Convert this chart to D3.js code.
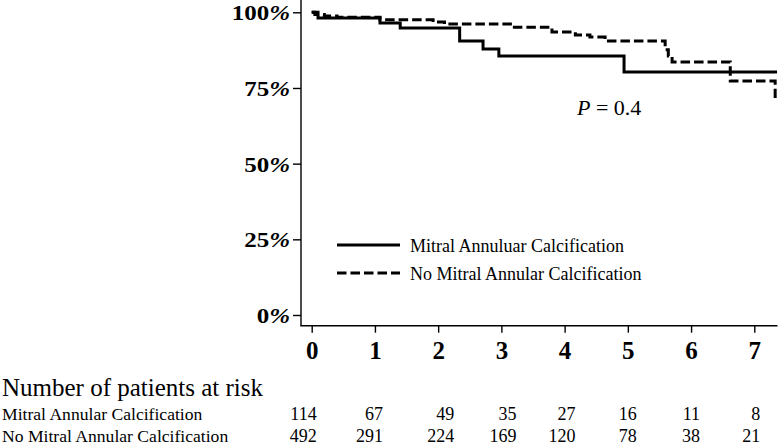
<!DOCTYPE html>
<html>
<head>
<meta charset="utf-8">
<script src="https://cdn.jsdelivr.net/npm/d3@7"></script>
<style>
  html, body { margin: 0; padding: 0; background: #fff; }
  svg { display: block; }
  text { font-family: "Liberation Serif", "Times New Roman", serif; fill: #000; }
</style>
</head>
<body>
<svg id="chart" width="779" height="445"></svg>
<script>
// ---------- data ----------
const xTicks = [0, 1, 2, 3, 4, 5, 6, 7];
const yTicks = [0, 0.25, 0.5, 0.75, 1.0];
const yTickLabels = ["0", "25", "50", "75", "100"];

const seriesNames = ["Mitral Annuluar Calcification", "No Mitral Annular Calcification"];
const riskRowNames = ["Mitral Annular Calcification", "No Mitral Annular Calcification"];

// Mitral annular calcification (solid)
const macTimes = [0, 0.10, 1.08, 1.40, 2.34, 2.71, 2.96, 4.94, 7.36];
const macSurv  = [1.0, 0.981, 0.965, 0.948, 0.905, 0.879, 0.856, 0.803, 0.803];

// No mitral annular calcification (dashed)
const noMacTimes = [0, 0.05, 0.20, 0.40, 1.08, 1.92, 2.10, 3.17, 3.80, 4.17, 4.40, 4.64, 5.59, 5.64, 5.70, 6.62, 7.33, 7.33];
const noMacSurv  = [1.0, 0.993, 0.988, 0.984, 0.975, 0.968, 0.961, 0.951, 0.935, 0.925, 0.918, 0.905, 0.876, 0.856, 0.836, 0.773, 0.773, 0.717];

const riskMac   = [114, 67, 49, 35, 27, 16, 11, 8];
const riskNoMac = [492, 291, 224, 169, 120, 78, 38, 21];

const pText = "0.4";
const riskTitle = "Number of patients at risk";

// ---------- layout ----------
const svg = d3.select("#chart");
const x = d3.scaleLinear().domain([0, 7]).range([311.7, 754.3]);
const y = d3.scaleLinear().domain([0, 1]).range([315, 12.3]);
const axisLeftX = 301, axisBottomY = 325.7, axisRightX = 777.5;
const riskNudge = [5, 8, 16, 15, 11, 9, 9, 6];

// axes lines
svg.append("line").attr("x1", axisLeftX).attr("x2", axisLeftX)
  .attr("y1", 0).attr("y2", axisBottomY)
  .attr("stroke", "#000").attr("stroke-width", 1.4);
svg.append("line").attr("x1", axisLeftX - 0.7).attr("x2", axisRightX)
  .attr("y1", axisBottomY).attr("y2", axisBottomY)
  .attr("stroke", "#000").attr("stroke-width", 1.4);

// y axis
const yAxis = d3.axisLeft(y).tickValues(yTicks).tickSize(8).tickSizeOuter(0)
  .tickFormat(() => "");
const gy = svg.append("g").attr("transform", `translate(${axisLeftX},0)`).call(yAxis);
gy.select(".domain").remove();
gy.selectAll(".tick line").attr("stroke", "#000").attr("stroke-width", 1.4);
yTicks.forEach((v, i) => {
  const t = svg.append("text")
    .attr("transform", `translate(290,${y(v) + 8}) scale(1.25,1)`)
    .attr("text-anchor", "end")
    .attr("font-size", 20).attr("font-weight", "bold");
  t.append("tspan").text(yTickLabels[i]);
  t.append("tspan").attr("font-style", "italic").text("%");
});

// x axis
const xAxis = d3.axisBottom(x).tickValues(xTicks).tickSize(7).tickSizeOuter(0)
  .tickFormat(d3.format("d"));
const gx = svg.append("g").attr("transform", `translate(0,${axisBottomY})`).call(xAxis);
gx.select(".domain").remove();
gx.selectAll(".tick line").attr("stroke", "#000").attr("stroke-width", 1.4);
gx.selectAll(".tick text")
  .attr("y", 33).attr("dy", 0)
  .attr("font-family", "Liberation Serif, serif")
  .attr("font-size", 25).attr("font-weight", "bold").attr("fill", "#000");

// survival step curves
const line = d3.line().x(d => x(d[0])).y(d => y(d[1])).curve(d3.curveStepAfter);
svg.append("path")
  .datum(d3.zip(macTimes, macSurv))
  .attr("d", line).attr("fill", "none").attr("stroke", "#000").attr("stroke-width", 3);
svg.append("path")
  .datum(d3.zip(noMacTimes, noMacSurv))
  .attr("d", line).attr("fill", "none").attr("stroke", "#000").attr("stroke-width", 3)
  .attr("stroke-dasharray", "9.5,4");

// p-value
const pt = svg.append("text").attr("x", 577).attr("y", 115).attr("font-size", 22);
pt.append("tspan").attr("font-style", "italic").text("P");
pt.append("tspan").text(" = " + pText);

// legend
const legY = [245, 273];
seriesNames.forEach((name, i) => {
  svg.append("line").attr("x1", 337).attr("x2", 400)
    .attr("y1", legY[i]).attr("y2", legY[i])
    .attr("stroke", "#000").attr("stroke-width", 3)
    .attr("stroke-dasharray", i === 1 ? "9.5,4" : null);
  svg.append("text").attr("x", 410).attr("y", legY[i] + 7)
    .attr("font-size", 18).text(name);
});

// risk table
svg.append("text").attr("x", 2).attr("y", 396).attr("font-size", 25).text(riskTitle);
const rowY = [420, 442];
[riskMac, riskNoMac].forEach((row, r) => {
  svg.append("text").attr("x", 2).attr("y", rowY[r]).attr("font-size", 17.6).text(riskRowNames[r]);
  row.forEach((v, i) => {
    svg.append("text").attr("x", x(xTicks[i]) + riskNudge[i]).attr("y", rowY[r])
      .attr("text-anchor", "end").attr("font-size", 18).text(v);
  });
});
</script>
</body>
</html>
